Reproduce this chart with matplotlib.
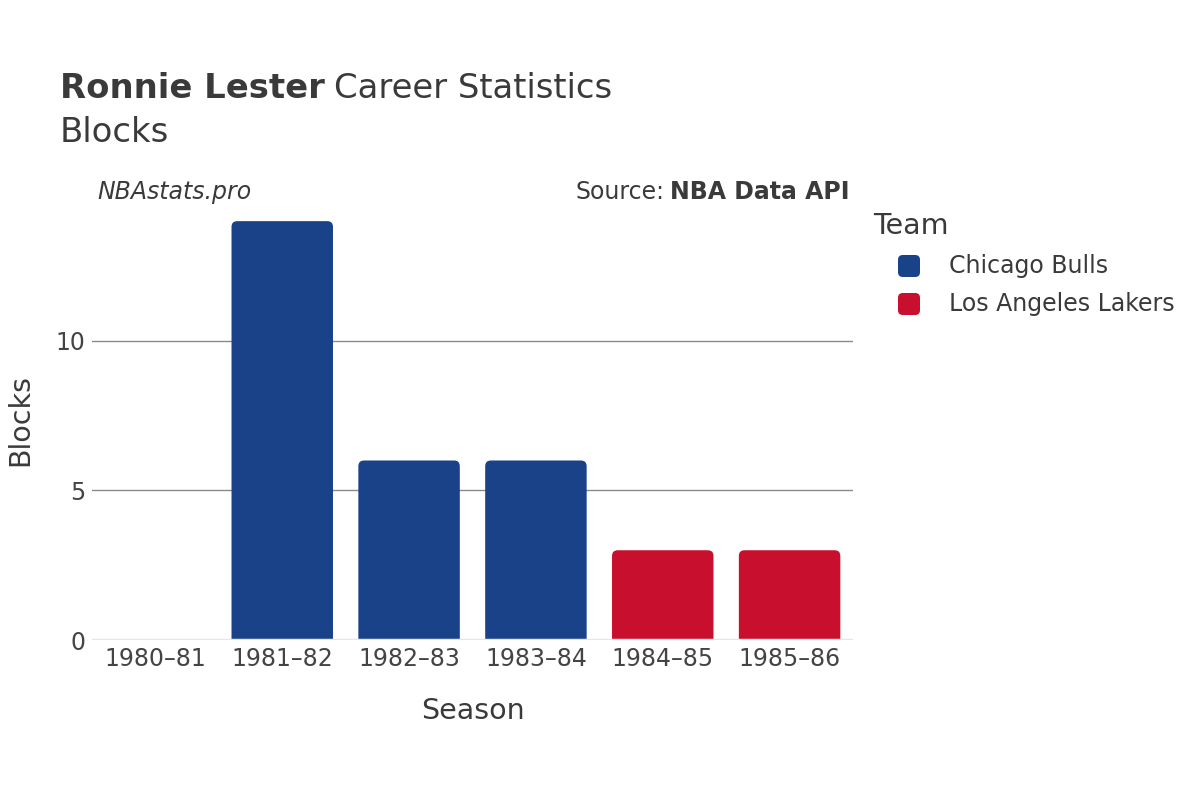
import matplotlib
matplotlib.use("Agg")
import matplotlib.pyplot as plt
from matplotlib.patches import FancyBboxPatch

seasons = ["1980–81", "1981–82", "1982–83", "1983–84", "1984–85", "1985–86"]
blocks = [0, 14, 6, 6, 3, 3]
teams = ["Chicago Bulls", "Chicago Bulls", "Chicago Bulls", "Chicago Bulls",
         "Los Angeles Lakers", "Los Angeles Lakers"]
team_colors = {"Chicago Bulls": "#1a4288", "Los Angeles Lakers": "#c8102e"}

txt = "#3a3a3a"
plt.rcParams['font.family'] = ['DejaVu Sans']

fig = plt.figure(figsize=(12, 8), dpi=100)
ax = fig.add_axes([92 / 1200, 160 / 800, (853 - 92) / 1200, (640 - 199) / 800])
ax.set_xlim(-0.5, len(seasons) - 0.5)
ax.set_ylim(0, 14.74)

# pixels per data unit, for round corners that look round
px_x = (853 - 92) / len(seasons)
px_y = (640 - 199) / 14.74
aspect = px_x / px_y

ax.grid(axis="y", color="#8a8a8a", linewidth=1)
ax.set_axisbelow(True)
for i, (v, t) in enumerate(zip(blocks, teams)):
    if v <= 0:
        continue
    p = FancyBboxPatch((i - 0.4, -1), 0.8, v + 1,
                       boxstyle="round,pad=0,rounding_size=0.045",
                       mutation_aspect=aspect,
                       facecolor=team_colors[t], edgecolor="none", zorder=2)
    ax.add_patch(p)
ax.axhline(0, color="#e6e6e6", linewidth=2.5, zorder=3)

ax.set_xticks(range(len(seasons)))
ax.set_xticklabels(seasons)
ax.set_yticks([0, 5, 10])
ax.tick_params(axis="both", length=0, labelsize=17, labelcolor="#444444", pad=5)
for s in ax.spines.values():
    s.set_visible(False)
ax.set_xlabel("Season", fontsize=20.5, color=txt, labelpad=19)
ax.set_ylabel("Blocks", fontsize=20.5, color=txt, labelpad=15)

# title
renderer = fig.canvas.get_renderer()
t1 = fig.text(60 / 1200, 1 - 89 / 800, "Ronnie Lester", fontsize=24.4,
              fontweight="bold", color=txt, va="center")
bb = t1.get_window_extent(renderer)
fig.text(bb.x1 / 1200 + 0.008, 1 - 89 / 800, "Career Statistics", fontsize=24.4,
         color=txt, va="center")
fig.text(60 / 1200, 1 - 133 / 800, "Blocks", fontsize=24.4, color=txt, va="center")

fig.text(97 / 1200, 1 - 192 / 800, "NBAstats.pro", fontsize=17, style="italic",
         color=txt, va="center")
t2 = fig.text(850 / 1200, 1 - 192 / 800, "NBA Data API", fontsize=17,
              fontweight="bold", color=txt, va="center", ha="right")
bb2 = t2.get_window_extent(renderer)
fig.text(bb2.x0 / 1200 - 0.005, 1 - 192 / 800, "Source:", fontsize=17,
         color=txt, va="center", ha="right")

# legend
fig.text(873 / 1200, 1 - 226 / 800, "Team", fontsize=20.5, color=txt, va="center")
for k, (name, col) in enumerate(team_colors.items()):
    yc = 266 + 38 * k
    box = FancyBboxPatch((898 / 1200, 1 - (yc + 11) / 800), 22 / 1200, 22 / 800,
                         boxstyle="round,pad=0,rounding_size=0.004",
                         mutation_aspect=1200 / 800,
                         facecolor=col, edgecolor="none",
                         transform=fig.transFigure)
    fig.add_artist(box)
    fig.text(949 / 1200, 1 - yc / 800, name, fontsize=17, color=txt, va="center")

fig.savefig("out.png", dpi=100, facecolor="white")
